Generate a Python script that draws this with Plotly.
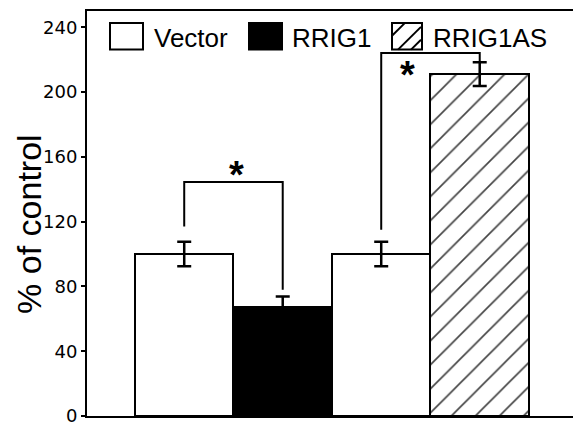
import plotly.graph_objects as go

# ---- data ----
groups = ["Vector (a)", "RRIG1", "Vector (b)", "RRIG1AS"]
values = [100, 67, 100, 211]
errors = [7.5, 6.7, 7.5, 7.3]
fill_colors = ["white", "black", "white", "white"]
hatch = ["", "", "", "/"]

legend_labels = ["Vector", "RRIG1", "RRIG1AS"]
y_ticks = [0, 40, 80, 120, 160, 200, 240]

# significance brackets: (left group, right group, bracket height, left leg end, right leg end)
brackets = [
    ("Vector (a)", "RRIG1", 144.5, 117, 78),
    ("Vector (b)", "RRIG1AS", 224, 115, 218.5),
]
stars = [(0.53, 148.5), (2.27, 210.5)]

# ---- layout geometry (pixels) ----
W, H = 573, 426
ML, MR, MT, MB = 87, 0, 11, 6
PW, PH = W - ML - MR, H - MT - MB


def px(xp):
    return (xp - ML) / PW


def py(yp):
    return (H - MB - yp) / PH


fig = go.Figure()
fig.add_trace(go.Bar(
    x=groups, y=values,
    marker=dict(
        color=fill_colors,
        line=dict(color="black", width=2),
        pattern=dict(shape=hatch, size=17, solidity=0.1,
                     fgcolor="black", fgopacity=1, bgcolor="white"),
    ),
    error_y=dict(type="data", array=errors, color="black", thickness=2.5, width=7),
    showlegend=False,
))

shapes = []
idx = {g: i for i, g in enumerate(groups)}
for a, b, top, la, lb in brackets:
    xa, xb = idx[a], idx[b]
    shapes.append(dict(type="path", xref="x", yref="y",
                       path=f"M {xa},{la} L {xa},{top} L {xb},{top} L {xb},{lb}",
                       line=dict(color="black", width=2)))

annotations = []
for sx, sy in stars:
    annotations.append(dict(x=sx, y=sy, xref="x", yref="y", text="<b>*</b>",
                            showarrow=False, font=dict(size=38, color="black",
                                                       family="Liberation Sans")))

# legend (manual, large swatches)
legend_boxes = [(110, 143), (249, 282), (392, 422)]
legend_text_x = [152, 290, 431]
box_top, box_bot = 23, 50
legend_fill = ["white", "black", "white"]
for (x0, x1), fc in zip(legend_boxes, legend_fill):
    shapes.append(dict(type="rect", xref="paper", yref="paper",
                       x0=px(x0), x1=px(x1), y0=py(box_bot), y1=py(box_top),
                       fillcolor=fc, line=dict(color="black", width=2)))
# hatch lines in the third swatch
hx0, hx1 = legend_boxes[2]
for (a0, b0, a1, b1) in [(0, 14, 13, 27), (6, 0, 29, 23), (19, 0, 29, 10)]:
    shapes.append(dict(type="line", xref="paper", yref="paper",
                       x0=px(hx0 + a0), y0=py(box_bot - b0),
                       x1=px(hx0 + a1), y1=py(box_bot - b1),
                       line=dict(color="black", width=2)))
for lbl, tx in zip(legend_labels, legend_text_x):
    annotations.append(dict(x=px(tx), y=py(38), xref="paper", yref="paper",
                            text=lbl, showarrow=False, xanchor="left", yanchor="middle",
                            font=dict(size=26, color="black", family="Liberation Sans")))

# y-axis title
annotations.append(dict(x=px(29), y=py(226), xref="paper", yref="paper",
                        text="% of control", textangle=-90, showarrow=False,
                        xanchor="center", yanchor="middle",
                        font=dict(size=34, color="black", family="Liberation Sans")))

fig.update_layout(
    width=W, height=H,
    margin=dict(l=ML, r=MR, t=MT, b=MB),
    plot_bgcolor="white", paper_bgcolor="white",
    bargap=0,
    shapes=shapes,
    annotations=annotations,
    xaxis=dict(range=[-0.987, 3.947], showticklabels=False, ticks="",
               showgrid=False, zeroline=False, showline=True, mirror=True,
               linecolor="black", linewidth=2),
    yaxis=dict(range=[0, 250], tickvals=y_ticks, ticks="outside", ticklen=4,
               tickwidth=2, tickcolor="black", showgrid=False, zeroline=False,
               showline=True, linecolor="black", linewidth=2,
               ticklabeloverflow="allow",
               tickfont=dict(family="DejaVu Sans", size=18, color="black")),
)

fig.write_html("out.html",
               config={"displayModeBar": False},
               post_script="document.body.style.margin='0';document.body.style.overflow='hidden';")
